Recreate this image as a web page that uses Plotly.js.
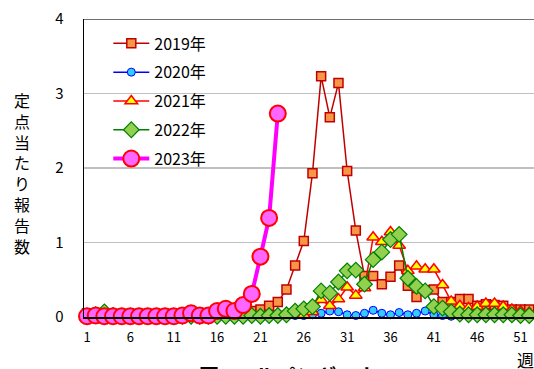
<!DOCTYPE html>
<html>
<head>
<meta charset="utf-8">
<script src="https://cdn.plot.ly/plotly-3.0.1.min.js"></script>
<style>html,body{margin:0;padding:0;background:#fff;}#chart{width:534px;height:369px;}</style>
</head>
<body>
<div id="chart"></div>
<script>
const weeks = [1,2,3,4,5,6,7,8,9,10,11,12,13,14,15,16,17,18,19,20,21,22,23,24,25,26,27,28,29,30,31,32,33,34,35,36,37,38,39,40,41,42,43,44,45,46,47,48,49,50,51,52];
const tickWeeks = [1,6,11,16,21,26,31,36,41,46,51];
const seriesNames = ["2019年","2020年","2021年","2022年","2023年"];

const y2019 = [0.05,0.04,0.03,0.03,0.02,0.02,0.02,0.02,0.02,0.02,0.02,0.02,0.03,0.03,0.04,0.04,0.05,0.06,0.07,0.08,0.10,0.15,0.20,0.37,0.69,1.02,1.93,3.23,2.68,3.14,1.96,1.16,0.55,0.55,0.44,0.54,0.69,0.42,0.27,0.36,0.37,0.20,0.20,0.24,0.24,0.15,0.17,0.16,0.15,0.10,0.10,0.10];
const y2020 = [0.03,0.03,0.02,0.02,0.02,0.01,0.01,0.01,0.01,0.01,0.00,0.00,0.00,0.00,0.00,0.00,0.00,0.00,0.00,0.00,0.01,0.01,0.01,0.01,0.02,0.02,0.03,0.05,0.08,0.07,0.03,0.02,0.05,0.09,0.05,0.03,0.06,0.03,0.05,0.08,0.03,0.02,0.01,0.01,0.01,0.01,0.01,0.01,0.01,0.00,0.00,0.00];
const y2021 = [0.03,0.02,0.02,0.02,0.02,0.01,0.01,0.01,0.01,0.01,0.01,0.01,0.01,0.01,0.01,0.01,0.01,0.01,0.01,0.01,0.01,0.02,0.02,0.02,0.02,0.03,0.07,0.23,0.15,0.24,0.40,0.29,0.39,1.07,1.01,1.14,0.96,0.62,0.68,0.64,0.64,0.43,0.21,0.15,0.12,0.14,0.18,0.18,0.14,0.10,0.08,0.06];
const y2022 = [0.01,0.03,0.07,0.02,0.01,0.01,0.01,0.01,0.01,0.01,0.01,0.01,0.01,0.01,0.01,0.01,0.01,0.01,0.01,0.02,0.01,0.02,0.02,0.03,0.08,0.11,0.14,0.35,0.32,0.47,0.62,0.63,0.44,0.77,0.87,1.04,1.11,0.52,0.41,0.35,0.14,0.12,0.07,0.04,0.03,0.03,0.03,0.03,0.03,0.03,0.02,0.02];
const y2023 = [0.01,0.02,0.01,0.01,0.01,0.01,0.01,0.01,0.01,0.01,0.01,0.02,0.05,0.02,0.02,0.08,0.11,0.08,0.16,0.31,0.81,1.33,2.73];

const F = '"Noto Sans CJK JP", "Noto Sans", sans-serif';

function tr(name, y, lineColor, lw, sym, size, fill, mlineColor, mlw, grp) {
  return {
    type: 'scatter', mode: 'lines+markers', name: name,
    x: weeks.slice(0, y.length), y: y,
    line: {color: lineColor, width: lw},
    marker: {symbol: sym, size: size, color: fill, line: {color: mlineColor, width: mlw}},
    cliponaxis: false, legendgroup: grp
  };
}

const data = [
  tr(seriesNames[0], y2019, '#c00000', 1.5, 'square', 9, '#f79646', '#c00000', 1.5, 'a'),
  tr(seriesNames[1], y2020, '#0000ff', 1.5, 'circle', 8, '#33ccff', '#0000ff', 1, 'b'),
  tr(seriesNames[2], y2021, '#ff0000', 1.5, 'triangle-up', 11, '#ffff00', '#ff0000', 1.5, 'c'),
  tr(seriesNames[3], y2022, '#008000', 1.5, 'diamond', 12, '#92d050', '#008000', 1.2, 'd'),
  tr(seriesNames[4], y2023, '#ff00ff', 4, 'circle', 16, '#ff66ff', '#ff0000', 2, 'e')
];

const layout = {
  width: 534, height: 369,
  margin: {l: 84, r: 0, t: 19, b: 52},
  paper_bgcolor: '#ffffff', plot_bgcolor: '#ffffff',
  font: {family: F, size: 13, color: '#000'},
  showlegend: true,
  legend: {x: 0.054, y: 0.975, xanchor: 'left', yanchor: 'top', bgcolor: 'rgba(0,0,0,0)',
           font: {family: F, size: 16, color: '#000'}, tracegroupgap: 5, itemwidth: 36},
  xaxis: {range: [0.65, 52.55], tickmode: 'array', tickvals: tickWeeks, ticktext: tickWeeks.map(String),
          showgrid: false, zeroline: false, showline: true, linecolor: '#000', linewidth: 1.5,
          ticks: '', tickfont: {family: F, size: 13}, ticklabelstandoff: 8},
  yaxis: {range: [0, 4], tickvals: [0,1,2,3,4], showgrid: true, gridcolor: '#c0c0c0', gridwidth: 1.5,
          zeroline: false, showline: true, linecolor: '#000', linewidth: 1.5, ticks: '',
          tickfont: {family: F, size: 15}, ticklabelstandoff: 16},
  shapes: [{type: 'line', xref: 'paper', yref: 'y', x0: 0, x1: 1, y0: 4, y1: 4, line: {color: '#404040', width: 1.5}}],
  annotations: [
    {text: '定<br>点<br>当<br>た<br>り<br>報<br>告<br>数', xref: 'paper', yref: 'paper', x: -0.138, y: 0.483,
     xanchor: 'center', yanchor: 'middle', showarrow: false, font: {family: F, size: 16, color: '#000'}},
    {text: '週', xref: 'paper', yref: 'paper', x: 0.98, y: -0.144, xanchor: 'center', yanchor: 'middle',
     showarrow: false, font: {family: F, size: 17, color: '#000'}},
    {text: '<b>図1 ヘルパンギーナ</b>', xref: 'paper', yref: 'paper', x: 0.25, y: -0.14, xanchor: 'left', yanchor: 'top',
     showarrow: false, font: {family: F, size: 20, color: '#000'}}
  ]
};

Plotly.newPlot('chart', data, layout, {displayModeBar: false, staticPlot: true});
</script>
</body>
</html>
